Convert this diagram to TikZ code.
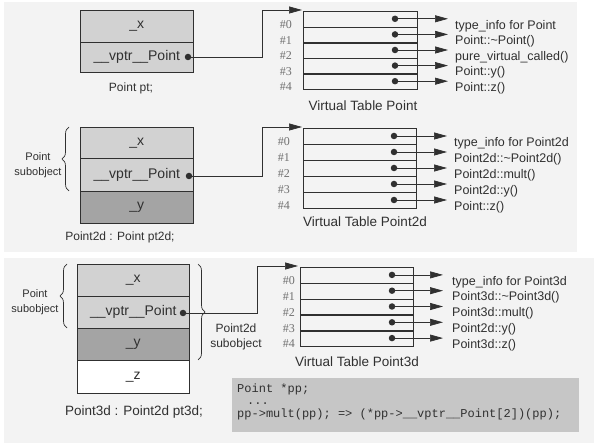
\documentclass[tikz,border=0pt]{standalone}
\usepackage{fontspec}
\setmainfont{Liberation Sans}
\setmonofont{Liberation Mono}
\newfontfamily\numfont{Liberation Serif}
\usetikzlibrary{arrows.meta,decorations.pathreplacing}
\definecolor{ink}{HTML}{303030}
\definecolor{panelbg}{HTML}{F3F3F3}
\definecolor{stone}{HTML}{D2D2D2}
\definecolor{darkstone}{HTML}{A4A4A4}
\definecolor{codebg}{HTML}{C6C6C6}
\definecolor{numgray}{HTML}{707070}
\tikzset{
  rowbox/.style={draw=ink, line width=0.7pt, inner sep=0pt, anchor=north west},
  objrow/.style={draw=ink, line width=0.7pt, inner sep=0pt, anchor=north west, minimum width=113pt, font=\fontsize{14}{16}\selectfont, text=ink},
  divider/.style={draw=ink, line width=1.4pt},
  dot/.style={circle, fill=ink, inner sep=0pt, minimum size=6.5pt},
  conn/.style={draw=ink, line width=0.7pt, -{Triangle[length=13pt,width=7pt]}},
  lab/.style={anchor=west, inner sep=0pt, text=ink, font=\fontsize{12.5}{14}\selectfont},
  numlab/.style={anchor=east, inner sep=0pt, text=numgray, font=\numfont\fontsize{12}{14}\selectfont},
  title/.style={inner sep=0pt, text=ink, font=\fontsize{13.5}{16}\selectfont},
  bracetext/.style={align=center, inner sep=0pt, text=ink},
  bracedeco/.style={draw=ink, line width=0.7pt, decorate, decoration={brace, amplitude=7pt}},
}
\begin{document}
\begin{tikzpicture}[x=1pt,y=-1pt]
\useasboundingbox (0,0) rectangle (594,443);
% panels
\fill[panelbg] (4,2) rectangle (577,252);
\fill[panelbg] (4,258) rectangle (594,443);

% ================= Section 1 =================
\node[objrow, fill=stone, minimum height=32pt] (b1x) at (80,10) {\_x};
\node[objrow, fill=stone, minimum height=30pt] (b1v) at (80,42) {\_\_vptr\_\_Point};
\draw[divider] (b1x.south west) -- (b1x.south east);
\node[dot] (b1d) at (188,57) {};
\node[title, font=\fontsize{12}{14}\selectfont] (c1) at (131,88) {Point pt;};

\foreach \k in {0,...,4} {
  \node[rowbox, minimum width=114pt, minimum height=15.6pt] (t1r\k) at (303,{11+\k*15.6}) {};
}
\foreach \k in {0,...,3} { \draw[divider] (t1r\k.south west) -- (t1r\k.south east); }
\foreach \k in {0,...,4} {
  \node[numlab] (t1n\k) at (292,{11+(\k+1)*15.6-2}) {\#\k};
  \node[dot] (t1d\k) at (395,{11+(\k+0.5)*15.6}) {};
  \coordinate (t1t\k) at (448,{11+(\k+0.5)*15.6});
  \draw[conn] (t1d\k.center) -- (t1t\k);
}
\foreach \k/\txt in {0/{type\_info for Point},1/{Point::\textasciitilde Point()},2/{pure\_virtual\_called()},3/{Point::y()},4/{Point::z()}} {
  \node[lab] (t1l\k) at (455,{11+(\k+0.5)*15.6+7}) {\txt};
}
\node[title] (t1title) at (363,106) {Virtual Table Point};
\coordinate (k1) at (262,10);
\coordinate (a1) at (302,10);
\draw[conn] (b1d.center) -| (k1) -- (a1);

% ================= Section 2 =================
\node[objrow, fill=stone, minimum height=31pt] (b2x) at (80,127) {\_x};
\node[objrow, fill=stone, minimum height=33pt] (b2v) at (80,158) {\_\_vptr\_\_Point};
\node[objrow, fill=darkstone, minimum height=32pt] (b2y) at (80,191) {\_y};
\draw[divider] (b2x.south west) -- (b2x.south east);
\draw[divider] (b2v.south west) -- (b2v.south east);
\node[dot] (b2d) at (189,176) {};
\node[title, font=\fontsize{12}{14}\selectfont] (c2) at (120,237) {Point2d : Point pt2d;};
\draw[bracedeco] (69,191) -- (69,127);
\node[bracetext, font=\fontsize{11}{15}\selectfont] (br2) at (38,165) {Point\\subobject};

\foreach \k in {0,...,4} {
  \node[rowbox, minimum width=113pt, minimum height=16pt] (t2r\k) at (303,{128+\k*16}) {};
}
\foreach \k in {0,...,3} { \draw[divider] (t2r\k.south west) -- (t2r\k.south east); }
\foreach \k in {0,...,4} {
  \node[numlab] (t2n\k) at (290,{128+(\k+1)*16-2}) {\#\k};
  \node[dot] (t2d\k) at (394,{128+(\k+0.5)*16}) {};
  \coordinate (t2t\k) at (447,{128+(\k+0.5)*16});
  \draw[conn] (t2d\k.center) -- (t2t\k);
}
\foreach \k/\txt in {0/{type\_info for Point2d},1/{Point2d::\textasciitilde Point2d()},2/{Point2d::mult()},3/{Point2d::y()},4/{Point::z()}} {
  \node[lab] (t2l\k) at (454,{128+(\k+0.5)*16+7}) {\txt};
}
\node[title] (t2title) at (365,222) {Virtual Table Point2d};
\coordinate (k2) at (262,127);
\coordinate (a2) at (302,127);
\draw[conn] (b2d.center) -| (k2) -- (a2);

% ================= Section 3 =================
\node[objrow, fill=stone, minimum width=112pt, minimum height=32pt] (b3x) at (77,264) {\_x};
\node[objrow, fill=stone, minimum width=112pt, minimum height=32pt] (b3v) at (77,296) {\_\_vptr\_\_Point};
\node[objrow, fill=darkstone, minimum width=112pt, minimum height=32pt] (b3y) at (77,328) {\_y};
\node[objrow, fill=white, minimum width=112pt, minimum height=33pt] (b3z) at (77,360) {\_z};
\draw[divider] (b3x.south west) -- (b3x.south east);
\draw[divider] (b3v.south west) -- (b3v.south east);
\draw[divider] (b3y.south west) -- (b3y.south east);
\node[dot] (b3d) at (183,313) {};
\node[title, font=\fontsize{13.5}{16}\selectfont] (c3) at (134,412) {Point3d : Point2d pt3d;};
\draw[bracedeco] (67,328) -- (67,264);
\node[bracetext, font=\fontsize{11}{15}\selectfont] (br3a) at (35,302) {Point\\subobject};
\draw[bracedeco] (198,264) -- (198,360);
\node[bracetext, font=\fontsize{12}{15}\selectfont] (br3b) at (236,337) {Point2d\\subobject};

\foreach \k in {0,...,4} {
  \node[rowbox, minimum width=113pt, minimum height=15.8pt] (t3r\k) at (300,{267+\k*15.8}) {};
}
\foreach \k in {0,...,3} { \draw[divider] (t3r\k.south west) -- (t3r\k.south east); }
\foreach \k in {0,...,4} {
  \node[numlab] (t3n\k) at (295,{267+(\k+1)*15.8-2}) {\#\k};
  \node[dot] (t3d\k) at (392,{267+(\k+0.5)*15.8}) {};
  \coordinate (t3t\k) at (443,{267+(\k+0.5)*15.8});
  \draw[conn] (t3d\k.center) -- (t3t\k);
}
\foreach \k/\txt in {0/{type\_info for Point3d},1/{Point3d::\textasciitilde Point3d()},2/{Point3d::mult()},3/{Point2d::y()},4/{Point3d::z()}} {
  \node[lab] (t3l\k) at (452,{267+(\k+0.5)*15.8+7}) {\txt};
}
\node[title] (t3title) at (357,362) {Virtual Table Point3d};
\coordinate (k3) at (257,266);
\coordinate (a3) at (298,266);
\draw[conn] (b3d.center) -| (k3) -- (a3);

% code box
\node[fill=codebg, minimum width=347pt, minimum height=54pt, anchor=north west, inner sep=0pt] (code) at (232,378) {};
\node[anchor=base west, inner sep=0pt, align=left, text=ink, font=\ttfamily\fontsize{12}{12.5}\selectfont] (codetext) at (237,417) {Point *pp;\\\hspace*{10pt}...\\pp->mult(pp); => (*pp->\_\_vptr\_\_Point[2])(pp);};
\end{tikzpicture}
\end{document}
